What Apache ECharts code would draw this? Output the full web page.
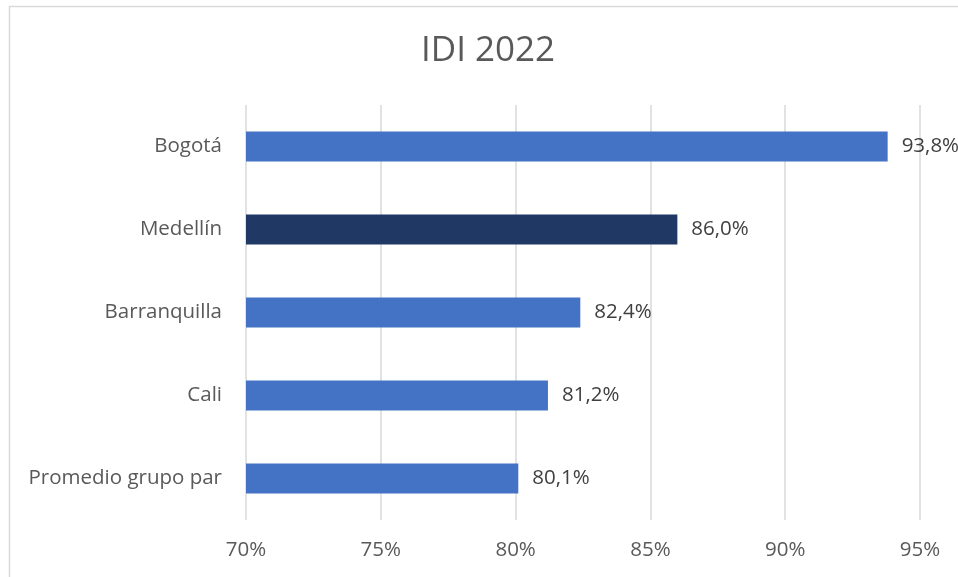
<!DOCTYPE html>
<html>
<head>
<meta charset="utf-8">
<script src="https://cdn.jsdelivr.net/npm/echarts@6/dist/echarts.min.js"></script>
<style>
html,body{margin:0;padding:0;background:#fff;}
#chart{width:958px;height:577px;}
</style>
</head>
<body>
<div id="chart"></div>
<script>
// IDI 2022 by city (percent)
const categories = ['Bogotá', 'Medellín', 'Barranquilla', 'Cali', 'Promedio grupo par'];
const values = [93.8, 86.0, 82.4, 81.2, 80.1];
const highlight = 'Medellín';
const tickValues = [70, 75, 80, 85, 90, 95];

const FONT = '"Open Sans", "Liberation Sans", sans-serif';
const chart = echarts.init(document.getElementById('chart'), null, {renderer: 'canvas'});

const fmt = v => v.toFixed(1).replace('.', ',') + '%';

chart.setOption({
  animation: false,
  backgroundColor: '#ffffff',
  title: {
    text: 'IDI 2022',
    left: 483,
    textAlign: 'center',
    top: 29,
    textStyle: {fontFamily: FONT, fontSize: 35, fontWeight: 'normal', color: '#595959'}
  },
  graphic: [{
    type: 'rect',
    shape: {x: 9.5, y: 6.5, width: 1000, height: 700},
    style: {fill: 'none', stroke: '#d9d9d9', lineWidth: 1.5},
    silent: true
  }],
  grid: {left: 246, right: 38, top: 105, bottom: 57, containLabel: false},
  xAxis: {
    type: 'value',
    min: tickValues[0],
    max: tickValues[tickValues.length - 1],
    interval: 5,
    axisLine: {show: false},
    axisTick: {show: false},
    splitLine: {lineStyle: {color: '#d9d9d9', width: 1.5}},
    axisLabel: {
      formatter: v => v + '%',
      fontFamily: FONT, fontSize: 20.5, color: '#595959', margin: 20
    }
  },
  yAxis: {
    type: 'category',
    data: categories,
    inverse: true,
    axisLine: {show: false},
    axisTick: {show: false},
    axisLabel: {fontFamily: FONT, fontSize: 20.5, color: '#595959', margin: 24}
  },
  series: [{
    type: 'bar',
    barWidth: 30,
    data: values.map((v, i) => ({
      value: v,
      itemStyle: {color: categories[i] === highlight ? '#1f3864' : '#4472c4'}
    })),
    label: {
      show: true,
      position: 'right',
      distance: 14,
      formatter: p => fmt(p.value),
      fontFamily: FONT, fontSize: 20.5, color: '#404040'
    }
  }]
});
</script>
</body>
</html>
